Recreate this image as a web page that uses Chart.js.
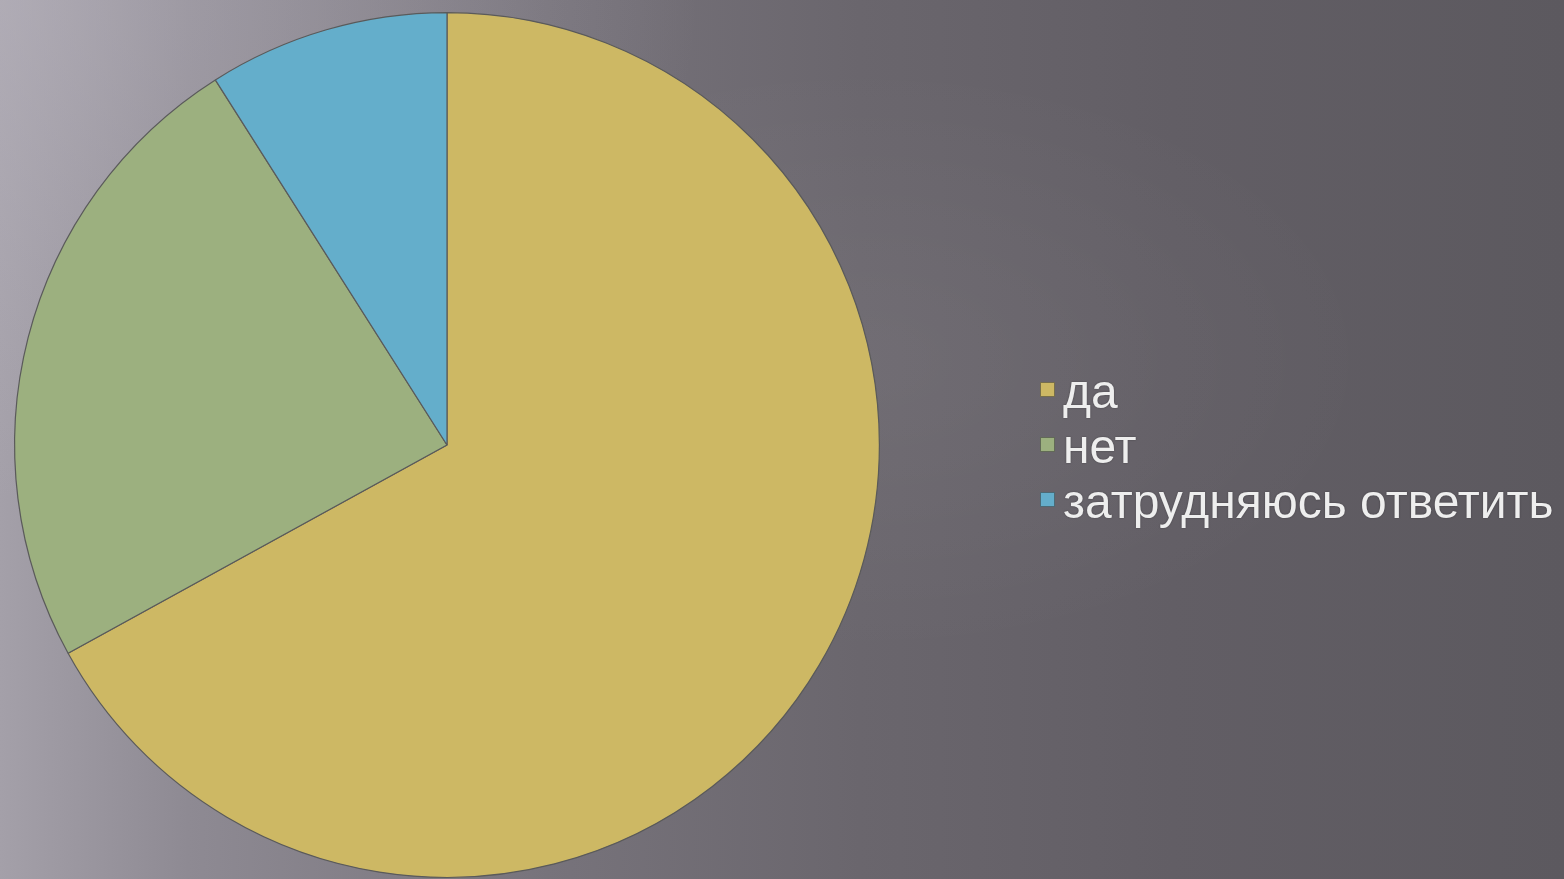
<!DOCTYPE html>
<html>
<head>
<meta charset="utf-8">
<script src="https://cdn.jsdelivr.net/npm/chart.js@4.4.0/dist/chart.umd.min.js"></script>
<style>
    html, body { margin: 0; padding: 0; }
    body {
        width: 1564px; height: 879px; overflow: hidden; position: relative;
        background:
            radial-gradient(ellipse 520px 300px at 860px 360px, rgba(255,255,255,0.05), rgba(255,255,255,0) 100%),
            radial-gradient(ellipse 700px 500px at 0px 0px, rgba(190,186,196,0.45), rgba(190,186,196,0) 100%),
            linear-gradient(90deg, #a4a0a9 0%, #8e8a93 12%, #77737b 35%, #6a666d 55%, #625e65 75%, #5c595f 100%);
    }
    #wrap { position: absolute; left: 0; top: 0; width: 1564px; height: 879px; }
    #legend {
        position: absolute; left: 1040px; top: 364px;
        font-family: "Liberation Sans", Arial, sans-serif; font-size: 48px; color: #eeeeee;
        text-shadow: 0 0 2px rgba(0,0,0,0.35);
    }
    #legend div { height: 55px; line-height: 55px; white-space: nowrap; }
    #legend span.box {
        display: inline-block; width: 13px; height: 13px; margin-right: 8px;
        border: 1px solid rgba(60,60,60,0.6); vertical-align: 11px;
    }
</style>
</head>
<body>
<div id="wrap"><canvas id="pie"></canvas></div>
<div id="legend"></div>
<script>
// answers to the survey question
const labels = ['да', 'нет', 'затрудняюсь ответить'];
const values = [67, 24, 9];
const colors = ['#cdb864', '#9cb07f', '#64aecb'];

const ctx = document.getElementById('pie').getContext('2d');
const chart = new Chart(ctx, {
    type: 'pie',
    data: {
        labels: labels,
        datasets: [{
            data: values,
            backgroundColor: colors,
            borderColor: '#5a5a5a',
            borderWidth: 1.2
        }]
    },
    options: {
        responsive: true,
        maintainAspectRatio: false,
        animation: false,
        layout: { padding: { left: 14, top: 12, bottom: 1, right: 684 } },
        plugins: { legend: { display: false }, tooltip: { enabled: false } }
    }
});

// legend drawn as html next to the pie
const legendEl = document.getElementById('legend');
labels.forEach((name, i) => {
    const row = document.createElement('div');
    const box = document.createElement('span');
    box.className = 'box';
    box.style.background = colors[i];
    row.appendChild(box);
    row.appendChild(document.createTextNode(name));
    legendEl.appendChild(row);
});
</script>
</body>
</html>
